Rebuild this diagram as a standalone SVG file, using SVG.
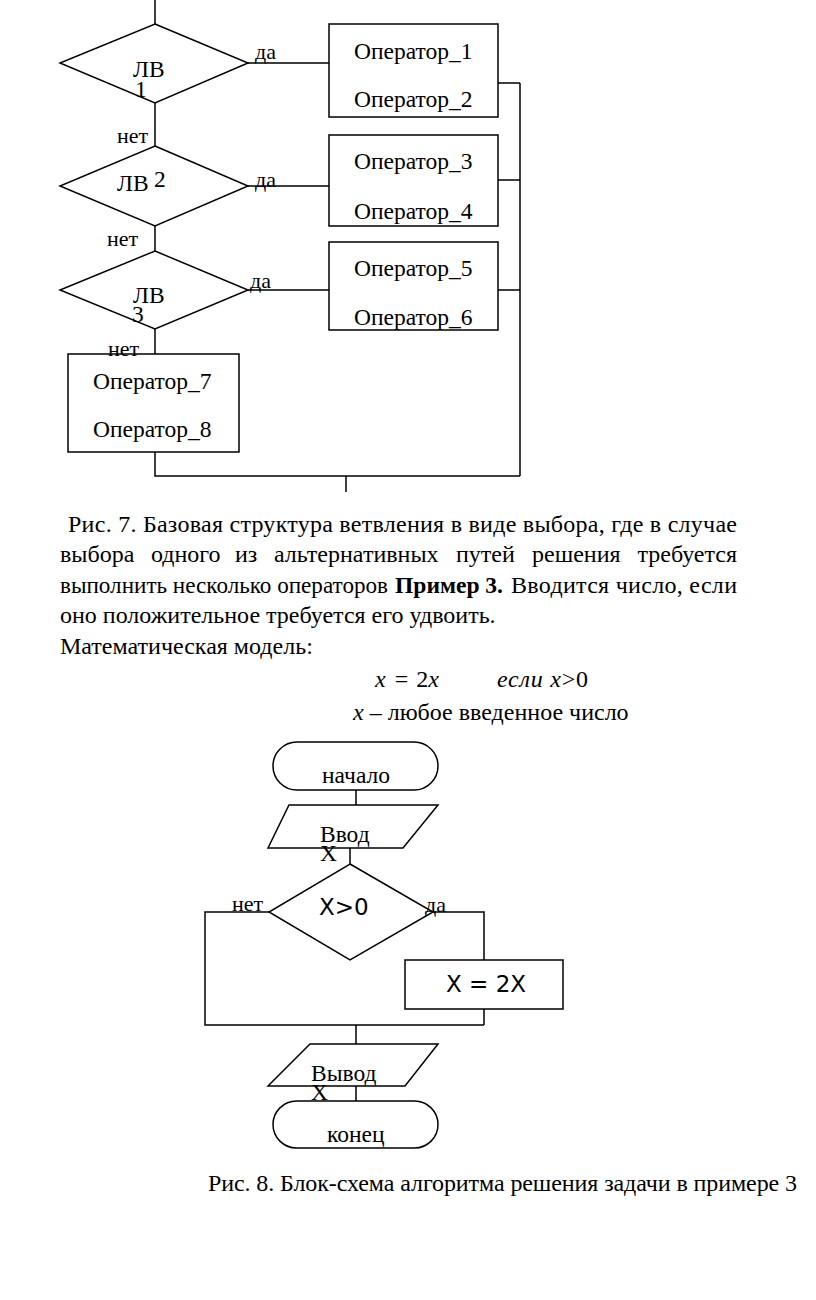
<svg xmlns="http://www.w3.org/2000/svg" width="816" height="1300" viewBox="0 0 816 1300">
<style>
.s{fill:none;stroke:#000;stroke-width:1.5}
.b{fill:#fff;stroke:#000;stroke-width:1.5}
.t{font-family:"Liberation Serif","Times New Roman",serif;font-size:23.5px;fill:#000}
.l{font-family:"Liberation Serif","Times New Roman",serif;font-size:22px;fill:#000}
.p{font-family:"Liberation Serif","Times New Roman",serif;font-size:24px;fill:#000}
.d{font-family:"DejaVu Sans",sans-serif;font-size:23px;fill:#000}
.m{font-family:"Liberation Serif","Times New Roman",serif;font-size:24px;font-style:italic;fill:#000}
</style>
<rect width="816" height="1300" fill="#fff"/>
<g id="connectors">
<path class="s" d="M155,0V24M248,63H329M498,83H520M155,103V146M248,186H329M498,180H520M155,226V251M248,290H329M498,290H520M520,83V476M155,329V354M155,452V476H520M346,476V492"/>
<path class="s" d="M356,790V805M350,848V864M269,912H205V1025H484M433,912H484V960M484,1009V1025M356,1025V1044M356,1086V1101"/>
</g>
<g id="lv1"><polygon class="b" points="155,24 248,63 155,103 60,63"/><text class="t" x="133" y="77">ЛВ</text><text class="t" x="135" y="97">1</text></g>
<g id="lv2"><polygon class="b" points="155,146 248,186 155,226 60,186"/><text class="t" x="117" y="191">ЛВ</text><text class="t" x="154" y="187">2</text></g>
<g id="lv3"><polygon class="b" points="155,251 248,290 155,329 60,290"/><text class="t" x="133" y="303">ЛВ</text><text class="t" x="132" y="322">3</text></g>
<g id="op12"><rect class="b" x="329" y="24" width="169" height="93"/><text class="t" x="354" y="59">Оператор_1</text><text class="t" x="354" y="107">Оператор_2</text></g>
<g id="op34"><rect class="b" x="329" y="135" width="169" height="91"/><text class="t" x="354" y="169">Оператор_3</text><text class="t" x="354" y="219">Оператор_4</text></g>
<g id="op56"><rect class="b" x="329" y="242" width="169" height="88"/><text class="t" x="354" y="276">Оператор_5</text><text class="t" x="354" y="325">Оператор_6</text></g>
<g id="op78"><rect class="b" x="68" y="354" width="171" height="98"/><text class="t" x="93" y="389">Оператор_7</text><text class="t" x="93" y="437">Оператор_8</text></g>
<g id="labels-top">
<text class="l" x="255" y="59">да</text>
<text class="l" x="117" y="143">нет</text>
<text class="l" x="255" y="187">да</text>
<text class="l" x="107" y="246">нет</text>
<text class="l" x="250" y="288">да</text>
<text class="l" x="108" y="356">нет</text>
</g>
<g id="paragraph">
<text class="p" x="68" y="532" textLength="669" lengthAdjust="spacing">Рис. 7. Базовая структура ветвления в виде выбора, где в случае</text>
<text class="p" y="562"><tspan x="60">выбора</tspan><tspan x="151">одного</tspan><tspan x="235">из</tspan><tspan x="274">альтернативных</tspan><tspan x="456">путей</tspan><tspan x="532">решения</tspan><tspan x="737" text-anchor="end">требуется</tspan></text>
<text class="p" x="60" y="593" textLength="328" lengthAdjust="spacingAndGlyphs">выполнить несколько операторов</text>
<text class="p" x="395" y="593" font-weight="bold" textLength="108" lengthAdjust="spacingAndGlyphs">Пример 3.</text>
<text class="p" x="511" y="593" textLength="226" lengthAdjust="spacing">Вводится число, если</text>
<text class="p" x="60" y="623">оно положительное требуется его удвоить.</text>
<text class="p" x="60" y="654">Математическая модель:</text>
<text class="m" x="375" y="687">x<tspan font-style="normal" dx="9">=</tspan><tspan font-style="normal" dx="8">2</tspan>x</text>
<text class="m" x="497" y="687" textLength="91" lengthAdjust="spacing">если x<tspan font-style="normal">&gt;0</tspan></text>
<text class="p" x="353" y="720"><tspan font-style="italic">x</tspan> – любое введенное число</text>
</g>
<g id="start"><rect class="b" x="273" y="742" width="165" height="48" rx="24"/><text class="t" x="322" y="783">начало</text></g>
<g id="input"><polygon class="b" points="289,805 438,805 403,848 268,848"/><text class="t" x="320" y="842">Ввод</text><text class="t" x="320" y="861">X</text></g>
<g id="cond"><polygon class="b" points="350,864 433,912 350,960 269,912"/><text class="d" x="319" y="915">X&gt;0</text></g>
<g id="labels-bottom"><text class="l" x="232" y="911">нет</text><text class="l" x="425" y="912">да</text></g>
<g id="assign"><rect class="b" x="405" y="960" width="158" height="49"/><text class="d" x="446" y="992">X = 2X</text></g>
<g id="output"><polygon class="b" points="310,1044 438,1044 405,1086 268,1086"/><text class="t" x="311" y="1081">Вывод</text><text class="t" x="311" y="1100">X</text></g>
<g id="end"><rect class="b" x="273" y="1101" width="165" height="47" rx="23.5"/><text class="t" x="327" y="1142">конец</text></g>
<text class="p" x="208" y="1191" textLength="589" lengthAdjust="spacing">Рис. 8. Блок-схема алгоритма решения задачи в примере 3</text>
</svg>
